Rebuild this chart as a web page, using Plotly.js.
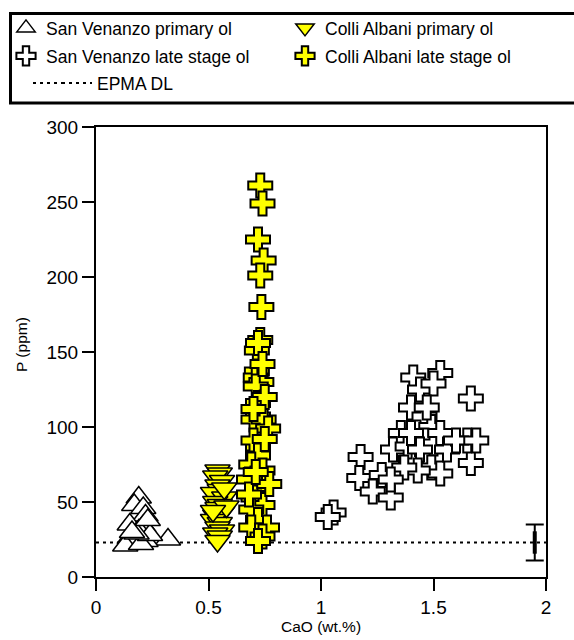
<!DOCTYPE html>
<html>
<head>
<meta charset="utf-8">
<script src="https://cdn.plot.ly/plotly-3.0.1.min.js"></script>
<style>
  html, body { margin: 0; padding: 0; background: #fff; }
  #chart { width: 574px; height: 640px; }
</style>
</head>
<body>
<div id="chart"></div>
<script>
// San Venanzo primary olivine
const svPrimaryCaO = [0.19, 0.17, 0.21, 0.22, 0.15, 0.21, 0.19, 0.32, 0.22, 0.15, 0.13, 0.20, 0.24, 0.18, 0.23, 0.16];
const svPrimaryP   = [53, 48, 46, 41, 35, 34, 31, 25, 24, 26, 21, 22, 28, 29, 38, 30];

// Colli Albani primary olivine
const caPrimaryCaO = [0.54, 0.55, 0.53, 0.56, 0.54, 0.55, 0.52, 0.57, 0.53, 0.55, 0.54, 0.56, 0.53, 0.52, 0.55, 0.54, 0.56, 0.53, 0.55, 0.54, 0.58, 0.57, 0.52];
const caPrimaryP   = [71, 69, 67, 64, 61, 58, 56, 53, 50, 48, 46, 43, 41, 38, 36, 33, 31, 29, 27, 24, 47, 59, 44];

// San Venanzo late stage olivine
const svLateCaO = [1.056, 1.03, 1.176, 1.17, 1.23, 1.27, 1.31, 1.32, 1.355, 1.40, 1.40, 1.41, 1.44, 1.53, 1.50, 1.46, 1.49, 1.46, 1.50, 1.49, 1.53, 1.53, 1.666, 1.666, 1.65, 1.385, 1.44, 1.43, 1.37, 1.31, 1.40, 1.47, 1.56, 1.60, 1.69];
const svLateP   = [43, 40, 80, 66, 57, 68, 53, 85, 96, 78, 113, 133, 125, 136, 129, 107, 100, 91, 89, 73, 69, 96, 119, 76, 91, 87, 85, 71, 73, 65, 96, 113, 85, 91, 91];

// Colli Albani late stage olivine
const caLateCaO = [0.73, 0.74, 0.72, 0.745, 0.73, 0.735, 0.73, 0.715, 0.72, 0.715, 0.71, 0.735, 0.71, 0.72, 0.72, 0.70, 0.745, 0.765, 0.72, 0.70, 0.72, 0.69, 0.74, 0.68, 0.72, 0.70, 0.74, 0.69, 0.72, 0.69, 0.76, 0.74, 0.72, 0.75, 0.68, 0.77, 0.71, 0.75, 0.70, 0.74];
const caLateP   = [261, 249, 225, 211, 201, 180, 158, 151, 156, 137, 133, 130, 127, 116, 107, 105, 105, 99, 87, 91, 81, 75, 71, 65, 60, 53, 48, 45, 38, 33, 33, 27, 24, 92, 55, 62, 70, 120, 112, 142];

// EPMA detection limit and its analytical uncertainty
const dlCaO = [0, 2];
const dlP = [23, 23];
const errCaO = [1.95];
const errP = [23];
const errSize = [12];

const FONT = '"Liberation Sans", Arial, sans-serif';
const W = 574, H = 640;
const M = { l: 96, r: 28, t: 127, b: 63, autoexpand: false };
const PW = W - M.l - M.r, PH = H - M.t - M.b;
// pixel -> paper helpers for the legend frame and the y title
const px = v => (v - M.l) / PW;
const py = v => (H - M.b - v) / PH;

const traces = [
  {
    name: 'EPMA DL', x: dlCaO, y: dlP, type: 'scatter', mode: 'lines',
    line: { color: '#000', width: 2, dash: '3px,4px' }, legend: 'legend3'
  },
  {
    name: 'San Venanzo primary ol', x: svPrimaryCaO, y: svPrimaryP, type: 'scatter', mode: 'markers',
    marker: { symbol: 'triangle-up', size: 22, color: '#fff', line: { color: '#000', width: 1.5 } },
    legend: 'legend'
  },
  {
    name: 'San Venanzo late stage ol', x: svLateCaO, y: svLateP, type: 'scatter', mode: 'markers',
    marker: { symbol: 'cross', size: 20, color: '#fff', line: { color: '#000', width: 2 } },
    legend: 'legend2'
  },
  {
    name: 'Colli Albani primary ol', x: caPrimaryCaO, y: caPrimaryP, type: 'scatter', mode: 'markers',
    marker: { symbol: 'triangle-down', size: 22, color: '#ffff00', line: { color: '#000', width: 1.5 } },
    legend: 'legend4'
  },
  {
    name: 'Colli Albani late stage ol', x: caLateCaO, y: caLateP, type: 'scatter', mode: 'markers',
    marker: { symbol: 'cross', size: 20, color: '#ffff00', line: { color: '#000', width: 2 } },
    legend: 'legend5'
  },
  {
    x: errCaO, y: errP, type: 'scatter', mode: 'markers', showlegend: false,
    marker: { symbol: 'line-ns-open', size: 16, color: '#000', line: { color: '#000', width: 4 } },
    error_y: { type: 'data', array: errSize, visible: true, color: '#000', thickness: 2, width: 9 }
  }
];

// one legend box per key so each row / column sits where it should
const legendAt = (left, top) => ({
  orientation: 'v', xref: 'container', yref: 'container',
  x: left / W, y: 1 - top / H, xanchor: 'left', yanchor: 'top',
  font: { family: FONT, size: 17.5, color: '#000' },
  bgcolor: 'rgba(0,0,0,0)', borderwidth: 0, tracegroupgap: 0, itemsizing: 'trace'
});

const layout = {
  width: W, height: H,
  margin: M,
  paper_bgcolor: '#fff', plot_bgcolor: '#fff',
  font: { family: FONT, color: '#000', size: 18 },
  showlegend: true,
  legend:  legendAt(6, 10),
  legend2: legendAt(6, 38),
  legend3: legendAt(57, 65),
  legend4: legendAt(285, 10),
  legend5: legendAt(285, 38),
  xaxis: {
    range: [0, 2], tickvals: [0, 0.5, 1, 1.5, 2], ticktext: ['0', '0.5', '1', '1.5', '2'],
    showgrid: false, zeroline: false, showline: true, mirror: true,
    linecolor: '#000', linewidth: 2, ticks: 'outside', ticklen: 12, tickwidth: 2, tickcolor: '#000',
    tickfont: { family: FONT, size: 19 },
    title: { text: 'CaO (wt.%)', font: { family: FONT, size: 15.5 }, standoff: 4 }
  },
  yaxis: {
    range: [0, 300], tickvals: [0, 50, 100, 150, 200, 250, 300],
    showgrid: false, zeroline: false, showline: true, mirror: true,
    linecolor: '#000', linewidth: 2, ticks: 'outside', ticklen: 12, tickwidth: 2, tickcolor: '#000',
    tickfont: { family: FONT, size: 19 }
  },
  annotations: [
    {
      // y axis title
      text: 'P (ppm)', textangle: -90, showarrow: false,
      xref: 'paper', yref: 'paper', x: px(21), y: py(345),
      xanchor: 'center', yanchor: 'middle',
      font: { family: FONT, size: 15.5, color: '#000' }
    }
  ],
  shapes: [
    {
      // legend frame
      type: 'rect', xref: 'paper', yref: 'paper',
      x0: px(10.5), x1: px(592), y0: py(103), y1: py(13.5),
      line: { color: '#000', width: 3 }, fillcolor: 'rgba(0,0,0,0)', layer: 'below'
    },
    {
      // leading part of the dotted legend key
      type: 'line', xref: 'paper', yref: 'paper',
      x0: px(33), x1: px(64), y0: py(83), y1: py(83),
      line: { color: '#000', width: 2, dash: '3px,4px' }
    }
  ]
};

Plotly.newPlot('chart', traces, layout, { displayModeBar: false, staticPlot: true });
</script>
</body>
</html>
